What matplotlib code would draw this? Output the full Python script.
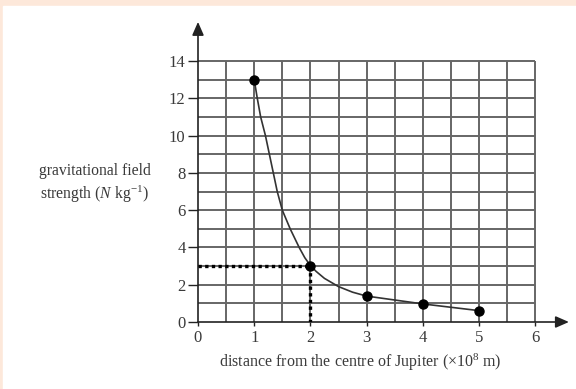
import numpy as np
import matplotlib
matplotlib.use("Agg")
import matplotlib.pyplot as plt
import matplotlib.patches as mpatches

plt.rcParams["mathtext.fontset"] = "custom"
plt.rcParams["mathtext.rm"] = "Liberation Serif"
plt.rcParams["mathtext.it"] = "Liberation Serif:italic"

# data
point_x = [1, 2, 3, 4, 5]
point_y = [13.0, 3.03, 1.39, 0.97, 0.61]

# curve
curve_x = [1.0, 1.055, 1.115, 1.2, 1.27, 1.34, 1.41, 1.5, 1.64, 1.8, 1.9,
           2.0, 2.1, 2.25, 2.5, 2.75, 3.0, 3.5, 4.0, 4.5, 5.0]
curve_y = [13.0, 12.0, 11.0, 10.0, 9.0, 8.0, 7.0, 6.0, 5.0, 4.0, 3.45,
           3.03, 2.72, 2.34, 1.9, 1.6, 1.39, 1.18, 0.97, 0.79, 0.61]

x_ticks = [0, 1, 2, 3, 4, 5, 6]
y_ticks = [0, 2, 4, 6, 8, 10, 12, 14]

read_x, read_y = 2, 3

PEACH = "#fde8da"
GRID = "#666666"
INK = "#222222"
TEXT = "#3a3a3a"
SERIF = ["Liberation Serif", "DejaVu Serif"]

W, H = 576, 389
fig = plt.figure(figsize=(W / 100, H / 100), dpi=100, facecolor=PEACH)
fig.patches.append(mpatches.Rectangle((3 / W, 0), 1, (H - 6) / H,
                                      transform=fig.transFigure, color="white", zorder=-5))

# pixel geometry of the plot: x=0 at 198px, 56.2 px/unit; y=0 at 322px, 18.64 px/unit
x0, xu = 198, 56.2
y0, yu = 322, 18.64
xmax, ymax = 6.6, 16.1
ax = fig.add_axes([x0 / W, (H - y0) / H, xmax * xu / W, ymax * yu / H], zorder=2)
ax.set_xlim(0, xmax)
ax.set_ylim(0, ymax)
ax.patch.set_alpha(0)
for s in ax.spines.values():
    s.set_visible(False)

# grid
ax.hlines(np.arange(1, 15), 0, 6, color=GRID, linewidth=1.4, zorder=1)
ax.vlines(np.arange(0.5, 6.01, 0.5), 0, 14, color=GRID, linewidth=1.4, zorder=1)

# axes with arrows
ax.annotate("", xy=(xmax, 0), xytext=(0, 0),
            arrowprops=dict(arrowstyle="-|>,head_length=0.8,head_width=0.35",
                            color=INK, lw=1.2, shrinkA=0, shrinkB=0), zorder=3)
ax.annotate("", xy=(0, ymax), xytext=(0, 0),
            arrowprops=dict(arrowstyle="-|>,head_length=0.8,head_width=0.35",
                            color=INK, lw=1.2, shrinkA=0, shrinkB=0), zorder=3)

# curve and points
ax.plot(curve_x, curve_y, color="#333333", linewidth=1.2, zorder=4,
        solid_joinstyle="round")
ax.plot(point_x, point_y, "o", color="black", markersize=6.5, zorder=5)

# dotted read-off lines
ax.plot([0, read_x], [read_y, read_y], color="black", linewidth=2.4,
        linestyle=(0, (1, 1.0)), zorder=4)
ax.plot([read_x, read_x], [read_y, 0], color="black", linewidth=2.4,
        linestyle=(0, (1, 1.0)), zorder=4)

ax.set_xticks(x_ticks)
ax.set_yticks(y_ticks)
ax.set_xticklabels([str(v) for v in x_ticks], family=SERIF, fontsize=12, color=TEXT)
ax.set_yticklabels([str(v) for v in y_ticks], family=SERIF, fontsize=12, color=TEXT)
ax.tick_params(axis="y", direction="out", length=7, width=1, color=INK, pad=2)
ax.tick_params(axis="x", direction="out", length=3, width=1, color=INK, pad=3)

fig.text(95 / W, 1 - 184 / H, "gravitational field\nstrength ($N$ kg$^{-1}$)",
         ha="center", va="center", multialignment="center", family=SERIF,
         fontsize=11.3, color=TEXT, linespacing=1.25)
fig.text(360 / W, 1 - 362 / H, "distance from the centre of Jupiter (×10$^{8}$ m)",
         ha="center", va="center", family=SERIF, fontsize=11.5, color=TEXT)

fig.savefig("out.png", dpi=100, facecolor=fig.get_facecolor())
